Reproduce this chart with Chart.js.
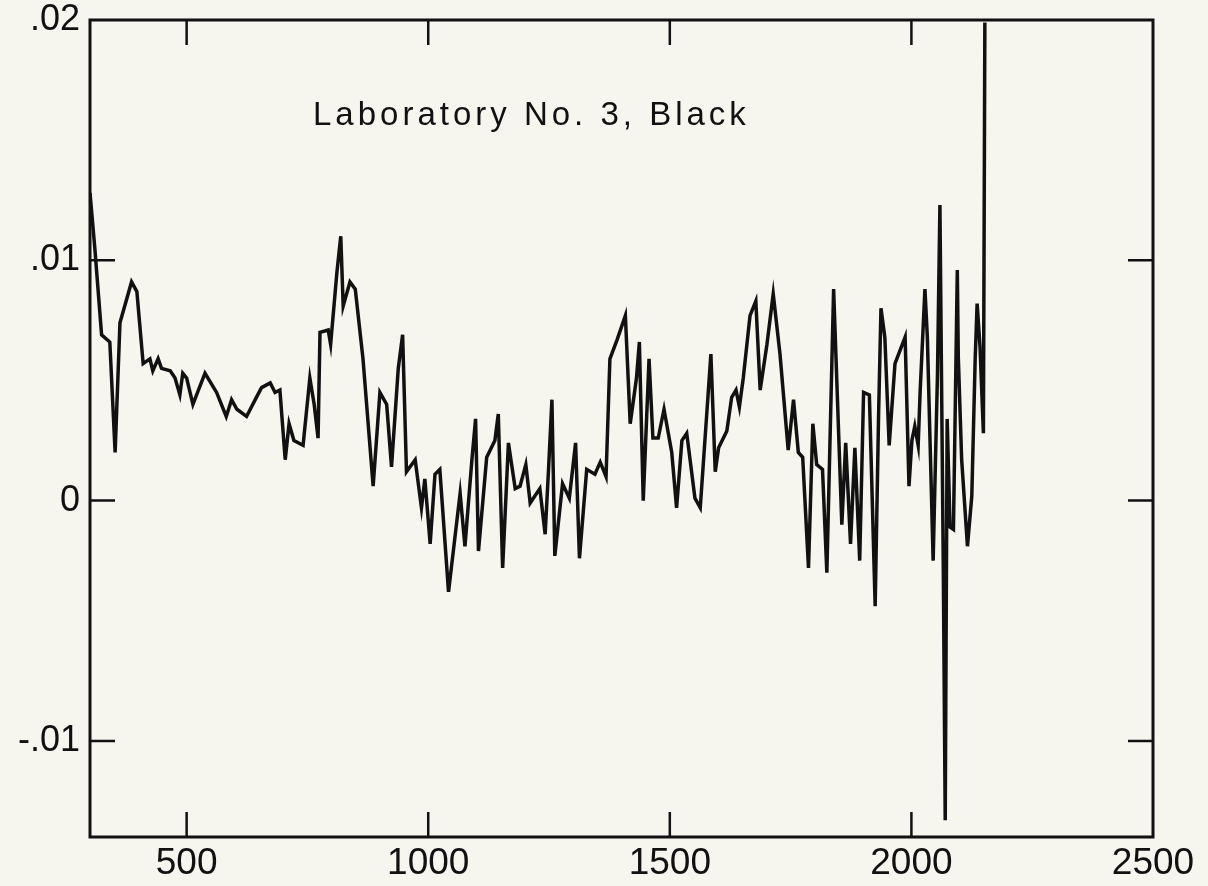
<!DOCTYPE html>
<html>
<head>
<meta charset="utf-8">
<script src="https://cdn.jsdelivr.net/npm/chart.js@4"></script>
<style>
  html, body { margin: 0; padding: 0; background: #f6f5ee; }
  canvas { display: block; }
</style>
</head>
<body>
<canvas id="chart" width="1208" height="886"></canvas>
<script>
// wavelength (x) and residual (y)
var wavelength = [
  300, 310, 324, 341, 352, 362, 386, 397, 410, 424, 430, 441, 448, 466, 476, 486, 492, 500, 513, 538,
  562, 582, 593, 604, 624, 642, 655, 673, 683, 693, 704, 712, 722, 741, 755, 764, 772, 776, 793, 798,
  811, 819, 824, 838, 849, 865, 886, 900, 914, 924, 938, 947, 955, 973, 986, 993, 1004, 1014, 1024, 1042,
  1066, 1076, 1090, 1098, 1104, 1121, 1138, 1145, 1154, 1166, 1180, 1190, 1202, 1211, 1231, 1242, 1249, 1256, 1262, 1278,
  1292, 1305, 1313, 1328, 1345, 1356, 1368, 1376, 1391, 1408, 1418, 1431, 1437, 1445, 1457, 1465, 1476, 1488, 1504, 1514,
  1525, 1535, 1552, 1563, 1585, 1594, 1601, 1618, 1628, 1637, 1644, 1652, 1666, 1678, 1687, 1701, 1714, 1728, 1745, 1756,
  1766, 1775, 1787, 1796, 1804, 1816, 1825, 1839, 1856, 1864, 1874, 1883, 1893, 1901, 1913, 1925, 1932, 1937, 1945, 1954,
  1966, 1987, 1995, 2001, 2007, 2014, 2018, 2028, 2033, 2045, 2054, 2059, 2066, 2070, 2074, 2080, 2087, 2095, 2097, 2104,
  2116, 2125, 2132, 2136, 2142, 2149, 2152
];
var residual = [
  0.0128, 0.0105, 0.0069, 0.0066, 0.0020, 0.0074, 0.0091, 0.0087, 0.0057, 0.0059, 0.0054, 0.0059, 0.0055, 0.0054, 0.0051, 0.0044, 0.0053, 0.0051, 0.0040, 0.0053,
  0.0045, 0.0035, 0.0042, 0.0038, 0.0035, 0.0042, 0.0047, 0.0049, 0.0045, 0.0046, 0.0017, 0.0032, 0.0025, 0.0023, 0.0051, 0.0040, 0.0026, 0.0070, 0.0071, 0.0065,
  0.0095, 0.0110, 0.0081, 0.0091, 0.0088, 0.0059, 0.0006, 0.0045, 0.0040, 0.0014, 0.0055, 0.0069, 0.0012, 0.0017, -0.0003, 0.0009, -0.0018, 0.0011, 0.0013, -0.0038,
  0.0003, -0.0019, 0.0016, 0.0034, -0.0021, 0.0018, 0.0025, 0.0036, -0.0028, 0.0024, 0.0005, 0.0006, 0.0015, -0.0001, 0.0005, -0.0014, 0.0013, 0.0042, -0.0023, 0.0007,
  0.0001, 0.0024, -0.0024, 0.0013, 0.0011, 0.0016, 0.0010, 0.0059, 0.0067, 0.0077, 0.0032, 0.0051, 0.0066, 0.0000, 0.0059, 0.0026, 0.0026, 0.0038, 0.0020, -0.0003,
  0.0025, 0.0028, 0.0001, -0.0003, 0.0061, 0.0012, 0.0022, 0.0029, 0.0043, 0.0046, 0.0039, 0.0051, 0.0077, 0.0083, 0.0046, 0.0065, 0.0086, 0.0061, 0.0021, 0.0042,
  0.0020, 0.0018, -0.0028, 0.0032, 0.0015, 0.0013, -0.0030, 0.0088, -0.0010, 0.0024, -0.0018, 0.0022, -0.0025, 0.0045, 0.0044, -0.0044, 0.0035, 0.0080, 0.0068, 0.0023,
  0.0057, 0.0068, 0.0006, 0.0025, 0.0031, 0.0023, 0.0045, 0.0088, 0.0068, -0.0025, 0.0053, 0.0123, -0.0028, -0.0133, 0.0034, -0.0011, -0.0012, 0.0096, 0.0060, 0.0017,
  -0.0019, 0.0002, 0.0059, 0.0082, 0.0064, 0.0028, 0.0199
];

var xTicks = [500, 1000, 1500, 2000, 2500];
var yTicks = [-0.01, 0, 0.01, 0.02];
var yTickLabels = ['-.01', '0', '.01', '.02'];
var titleText = 'Laboratory No. 3, Black';

var ink = '#111111';
var fontFamily = '"Liberation Sans", Arial, Helvetica, sans-serif';

// box frame, inward tick marks on all four sides, title inside the plot
var framePlugin = {
  id: 'frame',
  afterDraw: function(chart) {
    var ctx = chart.ctx, a = chart.chartArea, x = chart.scales.x, y = chart.scales.y;
    var len = 25;
    ctx.save();
    ctx.strokeStyle = ink;
    ctx.lineWidth = 3;
    ctx.strokeRect(a.left, a.top, a.right - a.left, a.bottom - a.top);
    ctx.lineWidth = 2.5;
    ctx.beginPath();
    x.ticks.forEach(function(t) {
      var px = x.getPixelForValue(t.value);
      if (px <= a.left + 2 || px >= a.right - 2) return;
      ctx.moveTo(px, a.bottom); ctx.lineTo(px, a.bottom - len);
      ctx.moveTo(px, a.top); ctx.lineTo(px, a.top + len);
    });
    y.ticks.forEach(function(t) {
      var py = y.getPixelForValue(t.value);
      if (py <= a.top + 2 || py >= a.bottom - 2) return;
      ctx.moveTo(a.left, py); ctx.lineTo(a.left + len, py);
      ctx.moveTo(a.right, py); ctx.lineTo(a.right - len, py);
    });
    ctx.stroke();

    ctx.fillStyle = ink;
    ctx.font = '33px ' + fontFamily;
    ctx.letterSpacing = '4px';
    ctx.textBaseline = 'alphabetic';
    ctx.textAlign = 'left';
    ctx.fillText(titleText, a.left + 223, a.top + 105);
    ctx.restore();
  }
};

new Chart(document.getElementById('chart'), {
  type: 'line',
  data: {
    datasets: [{
      data: wavelength.map(function(w, i) { return { x: w, y: residual[i] }; }),
      borderColor: ink,
      borderWidth: 3.5,
      pointRadius: 0,
      tension: 0,
      fill: false
    }]
  },
  options: {
    responsive: false,
    animation: false,
    layout: { padding: { top: 20, right: 55, left: 0, bottom: 0 } },
    plugins: { legend: { display: false }, tooltip: { enabled: false }, title: { display: false } },
    scales: {
      x: {
        type: 'linear', min: 300, max: 2500,
        afterBuildTicks: function(scale) { scale.ticks = xTicks.map(function(v) { return { value: v }; }); },
        afterFit: function(scale) { scale.height = 49; scale.paddingLeft = 0; scale.paddingRight = 0; },
        grid: { display: false, drawTicks: false },
        border: { display: false },
        ticks: {
          color: ink, font: { family: fontFamily, size: 37 }, padding: 5, maxRotation: 0, autoSkip: false,
          callback: function(v) { return String(v); }
        }
      },
      y: {
        type: 'linear', min: -0.014, max: 0.02,
        afterBuildTicks: function(scale) { scale.ticks = yTicks.map(function(v) { return { value: v }; }); },
        afterFit: function(scale) { scale.width = 90; scale.paddingTop = 0; scale.paddingBottom = 0; },
        grid: { display: false, drawTicks: false },
        border: { display: false },
        ticks: {
          color: ink, font: { family: fontFamily, size: 36 }, padding: 10, autoSkip: false,
          callback: function(v) { var i = yTicks.indexOf(v); return i >= 0 ? yTickLabels[i] : ''; }
        }
      }
    }
  },
  plugins: [framePlugin]
});
</script>
</body>
</html>
